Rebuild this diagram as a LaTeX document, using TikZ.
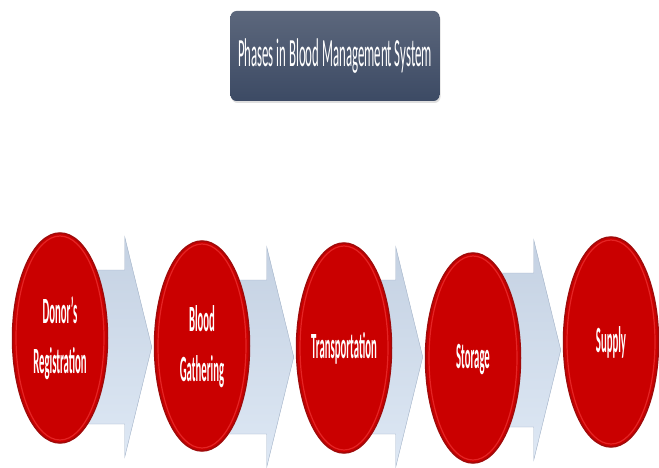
\documentclass[tikz,border=0pt]{standalone}
\usepackage{fontspec}
\setmainfont{Carlito}
\usepackage{tikz}
\usetikzlibrary{shapes.geometric,calc,backgrounds,shadows}
\definecolor{discred}{RGB}{202,0,0}
\definecolor{discrim}{RGB}{160,10,10}
\definecolor{discglow}{RGB}{228,36,36}
\definecolor{titletop}{RGB}{92,103,124}
\definecolor{titlebottom}{RGB}{60,74,100}
\definecolor{arrowdark}{RGB}{196,209,226}
\definecolor{arrowlight}{RGB}{224,234,246}
\definecolor{arrowedge}{RGB}{160,176,198}
\newcommand{\narrowtext}[1]{\scalebox{0.29}[1]{\fontsize{37}{50}\selectfont\bfseries\begin{tabular}{@{}c@{}}#1\end{tabular}}}
\newcommand{\blockarrow}[3]{%
  \path[block-arrow] let \p1=(#1.center), \p2=(#2.west) in
    (\x1,#3-77) -- (\x2-29,#3-77) -- (\x2-29,#3-110) -- (\x2-2,#3)
    -- (\x2-29,#3+110) -- (\x2-29,#3+77) -- (\x1,#3+77) -- cycle;}
\tikzset{
    phase-disc/.style = {ellipse, fill=discred, draw=discrim, line width=1.5pt, minimum width=95pt, minimum height=210pt, inner sep=0pt, text=white,
        path picture={\draw[discglow, line width=1.2pt] (path picture bounding box.center) ellipse (44pt and 102pt);}},
    title-box/.style = {rectangle, rounded corners=6pt, top color=titletop, bottom color=titlebottom, minimum width=209pt, minimum height=90pt, text=white,
        drop shadow={opacity=0.25, shadow xshift=1pt, shadow yshift=-2pt}},
    block-arrow/.style = {draw=arrowedge, thin, top color=arrowdark, middle color=arrowlight, bottom color=arrowlight!92!arrowdark},
}
\begin{document}
\begin{tikzpicture}[x=1pt, y=-1pt]
\useasboundingbox (0,0) rectangle (659,468);
\node[title-box] (title) at (335,56) {\resizebox{194pt}{\height}{\fontsize{40}{46}\selectfont Phases in Blood Management System}};
% phases
\node[phase-disc] (donor) at (60,338) {\narrowtext{Donor's\\Registration}};
\node[phase-disc] (gather) at (202,346) {\narrowtext{Blood\\Gathering}};
\node[phase-disc] (transport) at (344,348) {\narrowtext{Transportation}};
\node[phase-disc] (storage) at (473,358) {\narrowtext{Storage}};
\node[phase-disc] (supply) at (611,342) {\narrowtext{Supply}};
% arrows behind the discs
\begin{scope}[on background layer]
\blockarrow{donor}{gather}{347}
\blockarrow{gather}{transport}{357}
\blockarrow{transport}{storage}{357}
\blockarrow{storage}{supply}{350}
\end{scope}
\end{tikzpicture}
\end{document}
